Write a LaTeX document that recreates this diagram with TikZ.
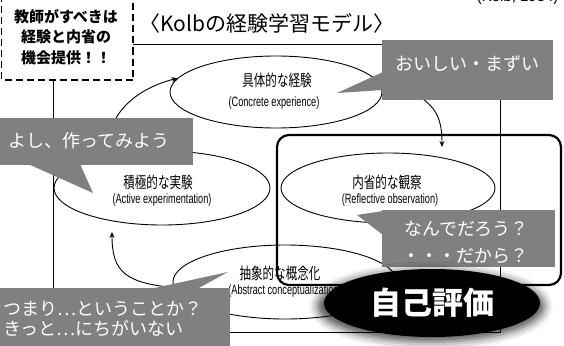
\documentclass[tikz,border=0pt]{standalone}
\usepackage{fontspec}
\usepackage{graphicx}
\setmainfont{Noto Sans CJK JP}
\newfontfamily\eng{Liberation Sans}
\usetikzlibrary{shapes.geometric,arrows.meta,shadows.blur}
\definecolor{callgray}{HTML}{808080}
\newcommand{\jlab}[1]{\scalebox{0.72}[1]{\fontsize{16}{18}\selectfont #1}}
\newcommand{\elab}[1]{\scalebox{0.68}[1]{\eng\fontsize{13.5}{15}\selectfont #1}}
\begin{document}
\begin{tikzpicture}[x=1pt,y=-1pt,
  kell/.style={draw=black, line width=0.9pt, ellipse, inner sep=0pt},
  lab/.style={inner sep=0pt},
  arr/.style={draw=black, line width=0.9pt, -{Stealth[length=6pt,width=5pt]}},
  calltext/.style={text=white, font=\fontsize{18}{27}\selectfont, inner sep=0pt}]
\useasboundingbox (0,0) rectangle (564,345);
\clip (0,0) rectangle (564,345);

% frame of the scanned figure
\draw[line width=0.7pt] (53,44) rectangle (500,332);

% ellipses
\node[kell, minimum width=212pt, minimum height=72pt] (ce) at (276,92) {};
\node[kell, minimum width=216pt, minimum height=74pt] (ae) at (162,188) {};
\node[kell, minimum width=214pt, minimum height=70pt] (re) at (388,188) {};
\node[kell, minimum width=224pt, minimum height=74pt] (ab) at (285,282) {};

\node[lab] (cej) at (277,80) {\jlab{具体的な経験}};
\node[lab] (cee) at (274,103) {\elab{(Concrete experience)}};
\node[lab] (aej) at (158,182) {\jlab{積極的な実験}};
\node[lab] (aee) at (162,200) {\elab{(Active experimentation)}};
\node[lab] (rej) at (387,182) {\jlab{内省的な観察}};
\node[lab] (ree) at (390,200) {\elab{(Reflective observation)}};
\node[lab] (abj) at (280,273) {\jlab{抽象的な概念化}};
\node[lab] (abe) at (285,291) {\elab{(Abstract conceptualization)}};

% arrows
\coordinate (crtip) at (442,147);
\coordinate (aatip) at (112,232);
\coordinate (acstart) at (106,157);
\coordinate (abstart) at (180,288);
\draw[arr] (acstart) .. controls (106,110) and (140,88) .. (ce.172);
\draw[arr] (ce.8) .. controls (432,96) and (442,110) .. (crtip);
\draw[arr] (abstart) .. controls (125,284) and (112,272) .. (aatip);

% thick rounded frame
\draw[line width=2.2pt, rounded corners=12pt] (277,135) rectangle (561,285);

% dashed box
\draw[line width=1.6pt, dash pattern=on 7pt off 4pt, fill=white] (1.5,-5) rectangle (133,80);
\node[align=center, font=\bfseries\fontsize{15}{20.5}\selectfont] (teach) at (66,37) {教師がすべきは\\経験と内省の\\機会提供！！};

% title
\node[font=\fontsize{21}{25}\selectfont, anchor=west] (title) at (136,23) {〈Kolbの経験学習モデル〉};
\node[font=\eng\fontsize{15}{18}\selectfont, anchor=base east] (kolb) at (562,2) {(Kolb, 1984)};

% callouts
\fill[callgray] (382,40) rectangle (553,100);
\fill[callgray] (383,72) -- (337,93) -- (383,90) -- cycle;
\node[calltext] (c1) at (467,64) {おいしい・まずい};

\fill[callgray] (0,118) rectangle (193,165);
\fill[callgray] (28,164) -- (93,193) -- (80,164) -- cycle;
\node[calltext, anchor=west] (c2) at (8,141) {よし、作ってみよう};

\fill[callgray] (382,210) rectangle (555,267);
\fill[callgray] (383,211) -- (357,215) -- (383,235) -- cycle;
\node[calltext, align=right, anchor=east] (c3) at (529,242) {なんでだろう？\\・・・だから？};

\fill[callgray] (0,288) rectangle (230,346);
\fill[callgray] (150,289) -- (228,272) -- (197,289) -- cycle;
\node[calltext, align=left, anchor=west, font=\fontsize{18}{20}\selectfont] (c4) at (3,319) {つまり…ということか？\\きっと…にちがいない};

% self evaluation
\node[ellipse, fill=black, minimum width=216pt, minimum height=68pt,
  blur shadow={shadow xshift=-1pt, shadow yshift=-3pt, shadow blur radius=8pt, shadow scale=1.05, shadow opacity=70},
  text=white, font=\bfseries\fontsize{31}{36}\selectfont] (self) at (432,303) {自己評価};
\end{tikzpicture}
\end{document}
